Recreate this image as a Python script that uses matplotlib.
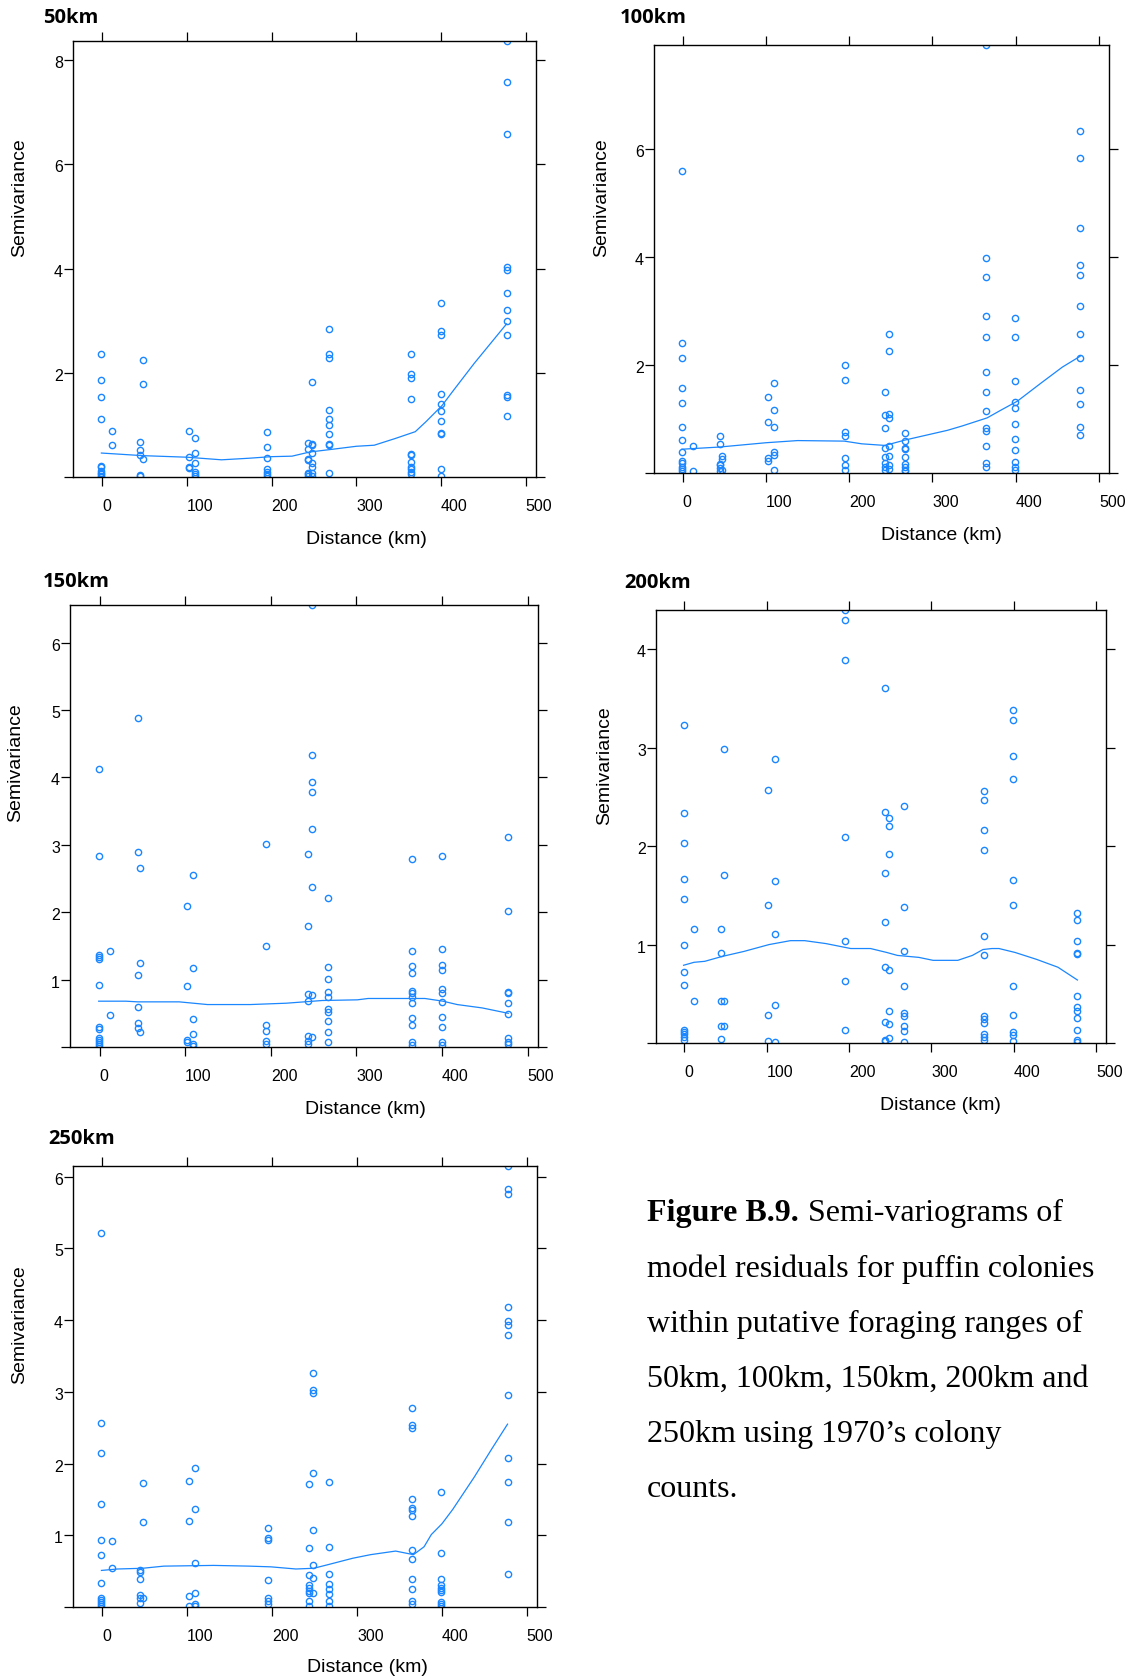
import numpy as np
import matplotlib
matplotlib.use("Agg")
import matplotlib.pyplot as plt
from matplotlib.transforms import ScaledTranslation

# distance classes (km) shared by every panel
lags = [-1, 12, 44.5, 47.6, 102, 109.5, 194.8, 243.3, 248, 267.2, 364.3, 399.5, 477.3]

# semivariance values read per distance class
semi_50 = [
    [2.37, 1.87, 1.54, 1.11, 0.22, 0.20, 0.12, 0.08, 0.05, 0.02, 0.0],
    [0.89, 0.61],
    [0.68, 0.51, 0.42, 0.04, 0.02],
    [2.25, 1.78, 0.34],
    [0.89, 0.38, 0.20, 0.18],
    [0.75, 0.46, 0.27, 0.10, 0.05, 0.01],
    [0.87, 0.58, 0.37, 0.15, 0.10, 0.05, 0.01],
    [0.65, 0.53, 0.34, 0.32, 0.08, 0.05, 0.02],
    [1.82, 0.63, 0.61, 0.46, 0.27, 0.20, 0.07, 0.02],
    [2.85, 2.37, 2.29, 1.28, 1.11, 0.99, 0.82, 0.63, 0.61, 0.08],
    [2.37, 1.97, 1.90, 1.49, 0.44, 0.42, 0.29, 0.19, 0.15, 0.10, 0.06],
    [3.34, 2.81, 2.73, 1.60, 1.40, 1.27, 1.08, 0.84, 0.82, 0.16, 0.02],
    [8.37, 7.58, 6.58, 4.03, 3.98, 3.54, 3.21, 2.99, 2.73, 1.58, 1.54, 1.17],
]
semi_100 = [
    [5.58, 2.40, 2.13, 1.58, 1.29, 0.86, 0.61, 0.38, 0.23, 0.18, 0.12, 0.08, 0.04],
    [0.50, 0.03],
    [0.68, 0.54, 0.17, 0.14, 0.10, 0.04],
    [0.31, 0.26, 0.06],
    [1.40, 0.95, 0.27, 0.22],
    [1.67, 1.16, 0.86, 0.39, 0.34, 0.05],
    [1.99, 1.72, 0.75, 0.68, 0.27, 0.14, 0.05],
    [1.49, 1.07, 0.84, 0.47, 0.29, 0.18, 0.12, 0.06],
    [2.57, 2.26, 1.10, 1.02, 0.50, 0.31, 0.14, 0.08],
    [0.74, 0.59, 0.46, 0.44, 0.29, 0.16, 0.12, 0.06, 0.04],
    [7.92, 3.98, 3.63, 2.91, 2.52, 1.87, 1.49, 1.15, 0.84, 0.77, 0.50, 0.19, 0.12],
    [2.87, 2.52, 1.71, 1.32, 1.20, 0.91, 0.63, 0.43, 0.21, 0.12, 0.06],
    [6.32, 5.82, 4.54, 3.84, 3.66, 3.09, 2.57, 2.12, 1.54, 1.27, 0.86, 0.70],
]
semi_150 = [
    [4.12, 2.83, 1.37, 1.34, 1.30, 0.92, 0.30, 0.27, 0.14, 0.10, 0.07, 0.04, 0.02],
    [1.42, 0.47],
    [4.88, 2.90, 1.07, 0.60, 0.36, 0.28],
    [2.66, 1.25, 0.23],
    [2.10, 0.90, 0.10, 0.07],
    [2.55, 1.17, 0.41, 0.19, 0.04, 0.02],
    [3.01, 1.50, 0.32, 0.24, 0.09, 0.04],
    [2.86, 1.80, 0.79, 0.69, 0.17, 0.09, 0.04],
    [6.56, 4.34, 3.93, 3.78, 3.24, 2.38, 0.77, 0.15],
    [2.21, 1.19, 1.01, 0.82, 0.74, 0.56, 0.52, 0.39, 0.23, 0.07],
    [2.79, 1.42, 1.20, 1.10, 0.83, 0.80, 0.74, 0.65, 0.43, 0.32, 0.07, 0.03],
    [2.84, 1.46, 1.22, 1.14, 0.86, 0.80, 0.67, 0.45, 0.30, 0.07, 0.03],
    [3.12, 2.02, 0.82, 0.80, 0.65, 0.49, 0.14, 0.08, 0.04],
]
semi_200 = [
    [3.23, 2.34, 2.03, 1.67, 1.46, 1.00, 0.72, 0.59, 0.13, 0.11, 0.09, 0.06, 0.03],
    [1.16, 0.43],
    [1.16, 0.91, 0.43, 0.17, 0.04],
    [2.99, 1.71, 0.43, 0.17],
    [2.57, 1.40, 0.28, 0.02],
    [2.89, 1.65, 1.11, 0.39, 0.01],
    [4.40, 4.30, 3.89, 2.09, 1.04, 0.63, 0.13],
    [3.61, 2.35, 1.73, 1.23, 0.77, 0.21, 0.03, 0.02],
    [2.29, 2.21, 1.92, 0.74, 0.33, 0.19, 0.05],
    [2.41, 1.38, 0.93, 0.58, 0.30, 0.27, 0.17, 0.12, 0.01],
    [2.56, 2.47, 2.16, 1.96, 1.09, 0.89, 0.27, 0.24, 0.20, 0.09, 0.06, 0.03],
    [3.38, 3.28, 2.92, 2.68, 1.66, 1.40, 0.58, 0.28, 0.11, 0.08, 0.02],
    [1.32, 1.25, 1.04, 0.91, 0.90, 0.48, 0.37, 0.33, 0.25, 0.13, 0.03, 0.01],
]
semi_250 = [
    [5.21, 2.57, 2.15, 1.43, 0.94, 0.73, 0.34, 0.13, 0.10, 0.07, 0.04, 0.02],
    [0.92, 0.54],
    [0.52, 0.49, 0.39, 0.17, 0.12, 0.06],
    [1.73, 1.19, 0.13],
    [1.76, 1.20, 0.15, 0.01],
    [1.94, 1.36, 0.61, 0.20, 0.04, 0.02],
    [1.10, 0.96, 0.94, 0.38, 0.13, 0.09, 0.04],
    [1.71, 0.82, 0.44, 0.31, 0.27, 0.23, 0.20, 0.08, 0.02],
    [3.26, 3.03, 2.99, 1.87, 1.08, 0.59, 0.41, 0.19],
    [1.75, 0.84, 0.46, 0.32, 0.25, 0.18, 0.09, 0.02],
    [2.77, 2.54, 2.50, 1.50, 1.38, 1.35, 1.27, 0.80, 0.67, 0.39, 0.25, 0.09, 0.04],
    [1.61, 0.75, 0.39, 0.31, 0.27, 0.24, 0.21, 0.07, 0.04, 0.02],
    [6.15, 5.83, 5.76, 4.18, 3.99, 3.93, 3.79, 2.95, 2.08, 1.75, 1.19, 0.46],
]

# smoother lines
smooth_x_50 = [-1, 47.6, 100, 140.8, 173, 199, 224, 245, 270.5, 300, 321, 346, 369.5, 382, 401, 413.5, 439, 477.3]
smooth_y_50 = [0.46, 0.41, 0.38, 0.33, 0.36, 0.39, 0.40, 0.48, 0.53, 0.59, 0.61, 0.74, 0.87, 1.06, 1.37, 1.64, 2.18, 2.94]
smooth_x_100 = [-1, 43.8, 100, 138, 194, 215, 243, 267, 284, 318, 335.6, 365.6, 383, 402, 430, 456, 477.3]
smooth_y_100 = [0.44, 0.48, 0.56, 0.60, 0.59, 0.54, 0.51, 0.61, 0.67, 0.79, 0.87, 1.02, 1.17, 1.33, 1.66, 1.96, 2.16]
smooth_x_150 = [-1, 30.8, 44.5, 93, 126, 176, 218, 260, 301, 313.6, 364, 380, 401, 417.6, 446.8, 477.3]
smooth_y_150 = [0.68, 0.68, 0.67, 0.67, 0.63, 0.63, 0.65, 0.69, 0.70, 0.72, 0.72, 0.72, 0.68, 0.63, 0.58, 0.50]
smooth_x_200 = [-1, 11.7, 24.7, 46, 72, 102.7, 128.7, 146, 172, 202, 226, 245.7, 258.7, 284.7, 302, 332,
                349.7, 362.6, 373.5, 382, 401.6, 427.6, 453.6, 477.3]
smooth_y_200 = [0.79, 0.82, 0.83, 0.88, 0.93, 1.00, 1.04, 1.04, 1.01, 0.96, 0.96, 0.92, 0.89, 0.87, 0.84, 0.84,
                0.89, 0.95, 0.96, 0.96, 0.92, 0.85, 0.77, 0.64]
smooth_x_250 = [-1, 18, 47.4, 72.6, 131, 173, 198.6, 228, 249, 265.7, 295, 316, 345.5, 362.3, 366.5, 379,
                387.5, 400, 412.7, 438, 459, 477.3]
smooth_y_250 = [0.51, 0.53, 0.54, 0.57, 0.58, 0.57, 0.56, 0.53, 0.54, 0.59, 0.68, 0.73, 0.78, 0.74, 0.73, 0.84,
                1.01, 1.16, 1.36, 1.81, 2.21, 2.55]

titles = ["50km", "100km", "150km", "200km", "250km"]
x_ticks = [0, 100, 200, 300, 400, 500]
y_ticks_50 = [0, 2, 4, 6, 8]
y_ticks_100 = [0, 2, 4, 6]
y_ticks_150 = [0, 1, 2, 3, 4, 5, 6]
y_ticks_200 = [0, 1, 2, 3, 4]
y_ticks_250 = [0, 1, 2, 3, 4, 5, 6]

W, H = 1136, 1680
blue = "#1a86ff"
sans = "Liberation Sans"

fig = plt.figure(figsize=(W / 100, H / 100), dpi=100)


def fx(px):
    return px / W


def fy(py):
    return 1 - py / H


# panel boxes in pixels: left, right, top, bottom ; then title, ylabel, xlabel spots
panels = [
    (semi_50, smooth_x_50, smooth_y_50, y_ticks_50, (73, 536, 41, 477), (43, 18), (20, 198), (366, 539)),
    (semi_100, smooth_x_100, smooth_y_100, y_ticks_100, (654, 1109, 45, 473), (620, 18), (602, 198), (941, 535)),
    (semi_150, smooth_x_150, smooth_y_150, y_ticks_150, (70, 538, 605, 1047), (43, 582), (16, 763), (365, 1109)),
    (semi_200, smooth_x_200, smooth_y_200, y_ticks_200, (656, 1106, 610, 1043), (624, 583), (605, 766), (940, 1105)),
    (semi_250, smooth_x_250, smooth_y_250, y_ticks_250, (73, 537, 1166, 1607), (48, 1139), (20, 1325), (367, 1668)),
]

for i, (semi, sx, sy, yt, box, tpos, ylpos, xlpos) in enumerate(panels):
    l, r, t, b = box
    ax = fig.add_axes([fx(l), fy(b), fx(r - l), (b - t) / H])
    xs = []
    ys = []
    for d, vals in zip(lags, semi):
        for v in vals:
            xs.append(d)
            ys.append(v)
    ax.plot(xs, ys, linestyle="none", marker="o", markersize=4.5, markerfacecolor="none",
            markeredgecolor=blue, markeredgewidth=1.0)
    ax.plot(sx, sy, color=blue, linewidth=0.9)
    ax.set_xlim(-34.5, 512)
    ax.set_ylim(0, max(ys))
    ax.set_xticks(x_ticks)
    ax.set_xticklabels([str(v) for v in x_ticks], fontfamily=sans, fontsize=11.5, ha="left")
    ax.set_yticks(yt)
    ax.set_yticklabels(["" if v == 0 else str(v) for v in yt], fontfamily=sans, fontsize=11.5)
    ax.tick_params(direction="out", top=True, right=True, length=6.5, width=0.9)
    ax.tick_params(axis="x", pad=9.5)
    ax.tick_params(axis="y", pad=0.8)
    off = ScaledTranslation(0, -2 / 100, fig.dpi_scale_trans)
    for lab in ax.get_yticklabels():
        lab.set_transform(lab.get_transform() + off)
    for sp in ax.spines.values():
        sp.set_linewidth(1.0)
    fig.text(fx(tpos[0]), fy(tpos[1]), titles[i], fontfamily="Open Sans", fontweight="bold",
             fontsize=14.5, ha="left", va="center")
    fig.text(fx(ylpos[0]), fy(ylpos[1]), "Semivariance", fontfamily=sans, fontsize=14,
             rotation=90, ha="center", va="center")
    fig.text(fx(xlpos[0]), fy(xlpos[1]), "Distance (km)", fontfamily=sans, fontsize=14,
             ha="center", va="center")

# caption
cap_x = 647
cap_base = [1221, 1277, 1332, 1387, 1442, 1497]
cap_lines = ["Semi-variograms of", "model residuals for puffin colonies", "within putative foraging ranges of",
             "50km, 100km, 150km, 200km and", "250km using 1970\u2019s colony", "counts."]
serif = "Liberation Serif"
cap_size = 23
bold = fig.text(fx(cap_x), fy(cap_base[0]), "Figure B.9.", fontfamily=serif, fontweight="bold",
                fontsize=cap_size, va="baseline", ha="left")
rend = fig.canvas.get_renderer()
bb = bold.get_window_extent(renderer=rend)
fig.text(bb.x1 / W + 9 / W, fy(cap_base[0]), cap_lines[0], fontfamily=serif, fontsize=cap_size,
         va="baseline", ha="left")
for yb, line in zip(cap_base[1:], cap_lines[1:]):
    fig.text(fx(cap_x), fy(yb), line, fontfamily=serif, fontsize=cap_size, va="baseline", ha="left")

fig.savefig("out.png", dpi=100)
